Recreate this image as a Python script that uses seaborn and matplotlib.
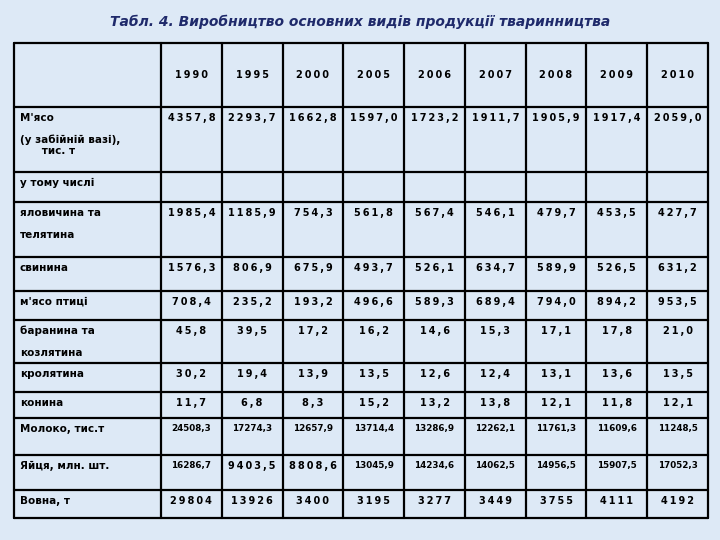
import matplotlib
matplotlib.use("Agg")
import matplotlib.pyplot as plt
import seaborn as sns

sns.set_style("white")
plt.rcParams['font.family'] = ['DejaVu Sans']
plt.rcParams['text.color'] = 'black'

title = "Табл. 4. Виробництво основних видів продукції тваринництва"
years = ["1990", "1995", "2000", "2005", "2006", "2007", "2008", "2009", "2010"]
row_labels = ["М'ясо\n\n(у забійній вазі),\n      тис. т", "у тому числі",
              "яловичина та\n\nтелятина", "свинина", "м'ясо птиці",
              "баранина та\n\nкозлятина", "кролятина", "конина",
              "Молоко, тис.т", "Яйця, млн. шт.", "Вовна, т"]
values = [
    ["4357,8", "2293,7", "1662,8", "1597,0", "1723,2", "1911,7", "1905,9", "1917,4", "2059,0"],
    [""] * 9,
    ["1985,4", "1185,9", "754,3", "561,8", "567,4", "546,1", "479,7", "453,5", "427,7"],
    ["1576,3", "806,9", "675,9", "493,7", "526,1", "634,7", "589,9", "526,5", "631,2"],
    ["708,4", "235,2", "193,2", "496,6", "589,3", "689,4", "794,0", "894,2", "953,5"],
    ["45,8", "39,5", "17,2", "16,2", "14,6", "15,3", "17,1", "17,8", "21,0"],
    ["30,2", "19,4", "13,9", "13,5", "12,6", "12,4", "13,1", "13,6", "13,5"],
    ["11,7", "6,8", "8,3", "15,2", "13,2", "13,8", "12,1", "11,8", "12,1"],
    ["24508,3", "17274,3", "12657,9", "13714,4", "13286,9", "12262,1", "11761,3", "11609,6", "11248,5"],
    ["16286,7", "9403,5", "8808,6", "13045,9", "14234,6", "14062,5", "14956,5", "15907,5", "17052,3"],
    ["29804", "13926", "3400", "3195", "3277", "3449", "3755", "4111", "4192"],
]

row_edges = [43, 107, 172, 202, 257, 291, 320, 363, 392, 418, 455, 490, 518]
x_left, x_first, x_right = 14, 161, 708
col_w = (x_right - x_first) / 9
col_edges = [x_left] + [x_first + i * col_w for i in range(10)]

fig = plt.figure(figsize=(7.2, 5.4), dpi=100)
fig.patch.set_facecolor("#dde9f6")
ax = fig.add_axes([0, 0, 1, 1])
ax.set_facecolor("#dde9f6")
ax.set_xlim(0, 720)
ax.set_ylim(540, 0)
ax.axis("off")

ax.text(360, 22, title, ha="center", va="center", fontsize=10,
        fontstyle="italic", fontweight="bold", color="#1f2a6b")

for y in row_edges:
    ax.plot([x_left, x_right], [y, y], color="black", lw=1.6)
for x in col_edges:
    ax.plot([x, x], [row_edges[0], row_edges[-1]], color="black", lw=1.6)

def spaced(s):
    return "\u2009".join(s) if len(s) <= 6 else s

fs = 7
for j, yr in enumerate(years):
    cx = (col_edges[j + 1] + col_edges[j + 2]) / 2
    ax.text(cx, 75, spaced(yr), ha="center", va="center", fontsize=fs, fontweight="bold")

for i, (lab, vals) in enumerate(zip(row_labels, values)):
    top = row_edges[i + 1]
    ax.text(x_left + 6, top + 6, lab, ha="left", va="top", fontsize=fs + 0.5,
            fontweight="bold", linespacing=1.1)
    for j, v in enumerate(vals):
        cx = (col_edges[j + 1] + col_edges[j + 2]) / 2
        ax.text(cx, top + 6, spaced(v), ha="center", va="top",
                fontsize=fs if len(v) <= 6 else 6.3, fontweight="bold")

fig.savefig("out.png", dpi=100, facecolor=fig.get_facecolor())
